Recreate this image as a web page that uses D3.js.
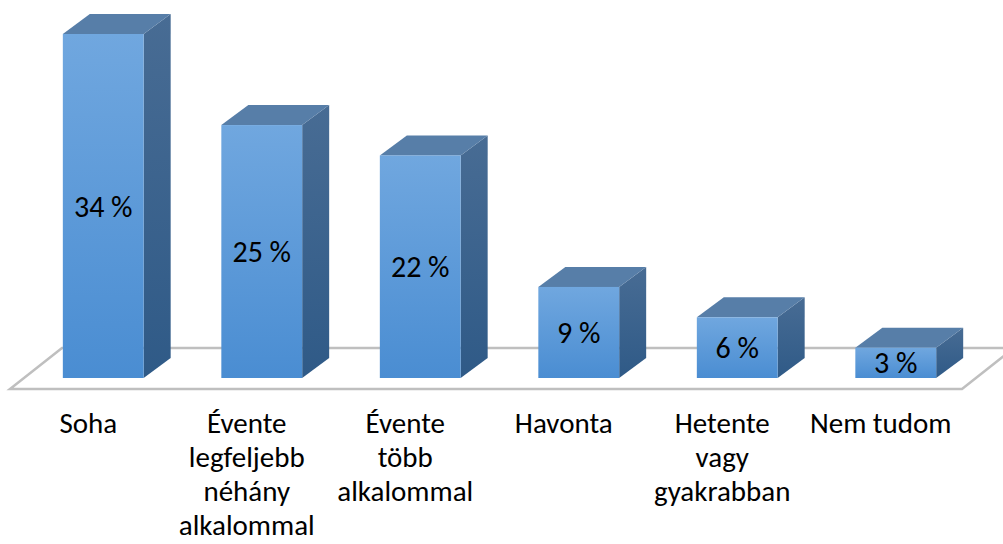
<!DOCTYPE html>
<html>
<head>
<meta charset="utf-8">
<script src="https://cdn.jsdelivr.net/npm/d3@7"></script>
<style>
    body { margin: 0; background: #fff; }
    svg { display: block; }
    text { font-family: Carlito, Calibri, Lato, sans-serif; fill: #000; }
</style>
</head>
<body>
<svg id="chart" width="1003" height="544"></svg>
<script>
// categories (line-broken as in the picture) and values in %
const categories = [
    ['Soha'],
    ['Évente', 'legfeljebb', 'néhány', 'alkalommal'],
    ['Évente', 'több', 'alkalommal'],
    ['Havonta'],
    ['Hetente', 'vagy', 'gyakrabban'],
    ['Nem tudom']
];
const values = [34, 25, 22, 9, 6, 3];
const valueLabels = ['34 %', '25 %', '22 %', '9 %', '6 %', '3 %'];

const svg = d3.select('#chart');

const x = d3.scaleBand()
    .domain(d3.range(values.length))
    .range([24, 975])
    .paddingInner(0.49)
    .paddingOuter(0.245);

const y = d3.scaleLinear()
    .domain([0, 34])
    .range([378, 34]);

// depth of the boxes
const dx = 27, dy = -20;

const defs = svg.append('defs');
const gFront = defs.append('linearGradient')
    .attr('id', 'front').attr('x1', 0).attr('y1', 0).attr('x2', 0).attr('y2', 1);
gFront.append('stop').attr('offset', '0%').attr('stop-color', '#70a7df');
gFront.append('stop').attr('offset', '100%').attr('stop-color', '#4a8dd2');

const gSide = defs.append('linearGradient')
    .attr('id', 'side').attr('x1', 0).attr('y1', 0).attr('x2', 0).attr('y2', 1);
gSide.append('stop').attr('offset', '0%').attr('stop-color', '#486c94');
gSide.append('stop').attr('offset', '100%').attr('stop-color', '#2f5a87');

// floor
const floorFront = 389, floorBack = 348;
svg.append('path')
    .attr('d', `M10,${floorFront} L962,${floorFront} L1014,${floorBack} L62,${floorBack} Z`)
    .attr('fill', '#fff')
    .attr('stroke', '#bfbfbf')
    .attr('stroke-width', 2.5);

const bars = svg.append('g')
    .selectAll('g')
    .data(values)
    .enter()
    .append('g');

// side face
bars.append('path')
    .attr('d', (d, i) => {
        const x1 = x(i) + x.bandwidth();
        return `M${x1},${y(0)} L${x1},${y(d)} L${x1 + dx},${y(d) + dy} L${x1 + dx},${y(0) + dy} Z`;
    })
    .attr('fill', 'url(#side)');

// top face
bars.append('path')
    .attr('d', (d, i) => {
        const x0 = x(i), x1 = x(i) + x.bandwidth();
        return `M${x0},${y(d)} L${x1},${y(d)} L${x1 + dx},${y(d) + dy} L${x0 + dx},${y(d) + dy} Z`;
    })
    .attr('fill', '#577ea8');

// front face
bars.append('rect')
    .attr('x', (d, i) => x(i))
    .attr('y', d => y(d))
    .attr('width', x.bandwidth())
    .attr('height', d => y(0) - y(d))
    .attr('fill', 'url(#front)');

// value labels
bars.append('text')
    .attr('x', (d, i) => x(i) + x.bandwidth() / 2)
    .attr('y', d => (y(d) + y(0)) / 2)
    .attr('dy', '0.35em')
    .attr('text-anchor', 'middle')
    .style('font-size', '30px')
    .text((d, i) => valueLabels[i]);

// category labels
const cats = svg.append('g')
    .selectAll('text')
    .data(categories)
    .enter()
    .append('text')
    .attr('text-anchor', 'middle')
    .style('font-size', '29px');

cats.selectAll('tspan')
    .data((d, i) => d.map(line => ({ line, i })))
    .enter()
    .append('tspan')
    .attr('x', d => x(d.i) + x.bandwidth() / 2 - 15)
    .attr('y', (d, j) => 433 + j * 34)
    .text(d => d.line);
</script>
</body>
</html>
